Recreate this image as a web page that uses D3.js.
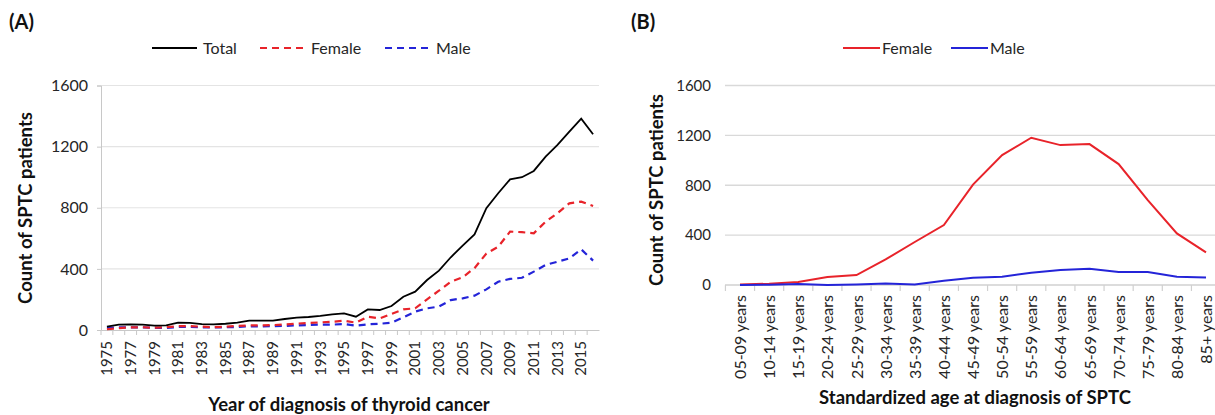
<!DOCTYPE html>
<html lang="en">
<head>
    <meta charset="UTF-8">
    <title>SPTC counts by year and age</title>
    <script src="https://d3js.org/d3.v7.min.js"></script>
    <style>
        body { margin: 0; background: #fff; }
        text { font-family: Lato, "Noto Sans", sans-serif; fill: #262626; }
        .axis-title { font-weight: bold; font-size: 18.5px; fill: #111; }
        .panel-tag { font-weight: bold; font-size: 20px; fill: #111; }
        .legend text { font-size: 16px; }
    </style>
</head>
<body>
<div id="chart"></div>
<script>
// Panel A: count by year of diagnosis
const years = [1975, 1976, 1977, 1978, 1979, 1980, 1981, 1982, 1983, 1984,
    1985, 1986, 1987, 1988, 1989, 1990, 1991, 1992, 1993, 1994,
    1995, 1996, 1997, 1998, 1999, 2000, 2001, 2002, 2003, 2004,
    2005, 2006, 2007, 2008, 2009, 2010, 2011, 2012, 2013, 2014,
    2015, 2016];
const totalByYear = [22, 35, 37, 35, 28, 30, 48, 46, 39, 37,
    41, 48, 61, 61, 61, 72, 81, 85, 92, 102,
    109, 87, 135, 131, 157, 218, 251, 327, 388, 476,
    552, 625, 797, 895, 986, 1000, 1041, 1135, 1211, 1298,
    1383, 1281];
const femaleByYear = [5, 12, 17, 18, 15, 18, 25, 25, 22, 18,
    22, 26, 30, 30, 32, 36, 42, 46, 50, 54,
    61, 48, 87, 76, 105, 135, 142, 201, 257, 316,
    345, 405, 500, 545, 644, 640, 633, 709, 764, 829,
    840, 812];
const maleByYear = [15, 17, 17, 17, 14, 13, 20, 20, 17, 16,
    18, 20, 24, 24, 25, 27, 30, 33, 35, 35,
    39, 28, 37, 41, 48, 83, 120, 142, 153, 196,
    207, 225, 266, 316, 334, 342, 382, 426, 447, 469,
    528, 454];

// Panel B: count by standardized age group
const ageGroups = ["05-09 years", "10-14 years", "15-19 years", "20-24 years",
    "25-29 years", "30-34 years", "35-39 years", "40-44 years", "45-49 years",
    "50-54 years", "55-59 years", "60-64 years", "65-69 years", "70-74 years",
    "75-79 years", "80-84 years", "85+ years"];
const femaleByAge = [5, 10, 25, 65, 80, 205, 345, 481, 805, 1042, 1181, 1122, 1130, 970, 681, 414, 262];
const maleByAge = [0, 3, 8, 0, 5, 12, 5, 35, 59, 67, 99, 120, 131, 104, 104, 67, 60];

const yTicks = [0, 400, 800, 1200, 1600];

const RED = "#e8232a";
const BLUE = "#2424d8";
const GRID = "#e4e4e4";
const AXIS = "#c8c8c8";
const fmt = d3.format("d");

const svg = d3.select("#chart")
    .append("svg")
    .attr("width", 1215)
    .attr("height", 415);

// ---------- Panel A ----------
const xA = d3.scaleBand().domain(years).range([101, 599]);
const yA = d3.scaleLinear().domain([0, 1600]).range([330, 85.5]);

svg.append("text").attr("class", "panel-tag").attr("x", 9).attr("y", 29).text("(A)");

svg.append("g").selectAll("line")
    .data(yTicks.slice(1))
    .join("line")
    .attr("x1", 101).attr("x2", 599)
    .attr("y1", d => yA(d)).attr("y2", d => yA(d))
    .attr("stroke", GRID).attr("stroke-width", 1.2);

const yAxisA = svg.append("g")
    .attr("transform", "translate(101,0)")
    .call(d3.axisLeft(yA).tickValues(yTicks).tickFormat(fmt).tickSize(4).tickPadding(9));
yAxisA.select(".domain").attr("stroke", AXIS);
yAxisA.selectAll(".tick line").attr("stroke", AXIS);
yAxisA.selectAll(".tick text").attr("font-size", 16).attr("fill", "#262626");

const xAxisA = svg.append("g")
    .attr("transform", "translate(0,330)")
    .call(d3.axisBottom(xA).tickSize(0).tickFormat(d => (d - 1975) % 2 === 0 ? d : ""));
xAxisA.select(".domain").attr("stroke", AXIS);
xAxisA.selectAll(".tick text")
    .attr("font-size", 15)
    .attr("fill", "#262626")
    .attr("transform", "rotate(-90)")
    .attr("text-anchor", "end")
    .attr("x", -11).attr("y", 0).attr("dy", "0.35em");
// ticks at band edges
svg.append("g").selectAll("line")
    .data(years)
    .join("line")
    .attr("x1", d => xA(d)).attr("x2", d => xA(d))
    .attr("y1", 330).attr("y2", 335)
    .attr("stroke", AXIS);

const lineA = data => d3.line()
    .x((d, i) => xA(years[i]) + xA.bandwidth() / 2)
    .y(d => yA(d))(data);

svg.append("path").attr("d", lineA(maleByYear))
    .attr("fill", "none").attr("stroke", BLUE).attr("stroke-width", 2.2)
    .attr("stroke-dasharray", "7,5");
svg.append("path").attr("d", lineA(femaleByYear))
    .attr("fill", "none").attr("stroke", RED).attr("stroke-width", 2.2)
    .attr("stroke-dasharray", "7,5");
svg.append("path").attr("d", lineA(totalByYear))
    .attr("fill", "none").attr("stroke", "#000").attr("stroke-width", 1.8);

svg.append("text").attr("class", "axis-title")
    .attr("transform", "translate(32,208) rotate(-90)")
    .attr("text-anchor", "middle")
    .text("Count of SPTC patients");
svg.append("text").attr("class", "axis-title")
    .attr("x", 349).attr("y", 411)
    .attr("text-anchor", "middle")
    .text("Year of diagnosis of thyroid cancer");

const legendA = svg.append("g").attr("class", "legend");
const itemsA = [
    { label: "Total", color: "#000", x: 152, dash: null },
    { label: "Female", color: RED, x: 260, dash: "7,5" },
    { label: "Male", color: BLUE, x: 385, dash: "7,5" }
];
itemsA.forEach(it => {
    legendA.append("line")
        .attr("x1", it.x).attr("x2", it.x + 45)
        .attr("y1", 48).attr("y2", 48)
        .attr("stroke", it.color).attr("stroke-width", 2)
        .attr("stroke-dasharray", it.dash);
    legendA.append("text")
        .attr("x", it.x + 51).attr("y", 48).attr("dy", "0.35em")
        .text(it.label);
});

// ---------- Panel B ----------
const xB = d3.scalePoint().domain(ageGroups).range([740, 1206]);
const stepB = xB.step();
const yB = d3.scaleLinear().domain([0, 1600]).range([285, 85.5]);

svg.append("text").attr("class", "panel-tag").attr("x", 631).attr("y", 29).text("(B)");

svg.append("g").selectAll("line")
    .data(yTicks.slice(1))
    .join("line")
    .attr("x1", 725).attr("x2", 1215)
    .attr("y1", d => yB(d)).attr("y2", d => yB(d))
    .attr("stroke", "#d9d9d9").attr("stroke-width", 1.4);

const yAxisB = svg.append("g")
    .attr("transform", "translate(725,0)")
    .call(d3.axisLeft(yB).tickValues(yTicks).tickFormat(fmt).tickSize(0).tickPadding(14));
yAxisB.select(".domain").remove();
yAxisB.selectAll(".tick text").attr("font-size", 15).attr("fill", "#262626");

svg.append("line")
    .attr("x1", 725).attr("x2", 1215)
    .attr("y1", 285).attr("y2", 285)
    .attr("stroke", "#d0d0d0").attr("stroke-width", 1.4);
svg.append("g").selectAll("line")
    .data(ageGroups)
    .join("line")
    .attr("x1", d => xB(d) - stepB / 2).attr("x2", d => xB(d) - stepB / 2)
    .attr("y1", 285).attr("y2", 291)
    .attr("stroke", "#d0d0d0").attr("stroke-width", 1.2);

const xAxisB = svg.append("g")
    .attr("transform", "translate(0,285)")
    .call(d3.axisBottom(xB).tickSize(0));
xAxisB.select(".domain").remove();
xAxisB.selectAll(".tick text")
    .attr("font-size", 16)
    .attr("fill", "#262626")
    .attr("transform", "rotate(-90)")
    .attr("text-anchor", "end")
    .attr("x", -10).attr("y", 0).attr("dy", "0.35em");

const lineB = data => d3.line()
    .x((d, i) => xB(ageGroups[i]))
    .y(d => yB(d))(data);

svg.append("path").attr("d", lineB(femaleByAge))
    .attr("fill", "none").attr("stroke", RED).attr("stroke-width", 2);
svg.append("path").attr("d", lineB(maleByAge))
    .attr("fill", "none").attr("stroke", BLUE).attr("stroke-width", 2);

svg.append("text").attr("class", "axis-title")
    .attr("transform", "translate(663,190) rotate(-90)")
    .attr("text-anchor", "middle")
    .text("Count of SPTC patients");
svg.append("text").attr("class", "axis-title")
    .attr("x", 975).attr("y", 404)
    .attr("text-anchor", "middle")
    .text("Standardized age at diagnosis of SPTC");

const legendB = svg.append("g").attr("class", "legend");
[{ label: "Female", color: RED, x: 843 }, { label: "Male", color: BLUE, x: 951 }].forEach(it => {
    legendB.append("line")
        .attr("x1", it.x).attr("x2", it.x + 37)
        .attr("y1", 48).attr("y2", 48)
        .attr("stroke", it.color).attr("stroke-width", 2);
    legendB.append("text")
        .attr("x", it.x + 39).attr("y", 48).attr("dy", "0.35em")
        .text(it.label);
});
</script>
</body>
</html>
